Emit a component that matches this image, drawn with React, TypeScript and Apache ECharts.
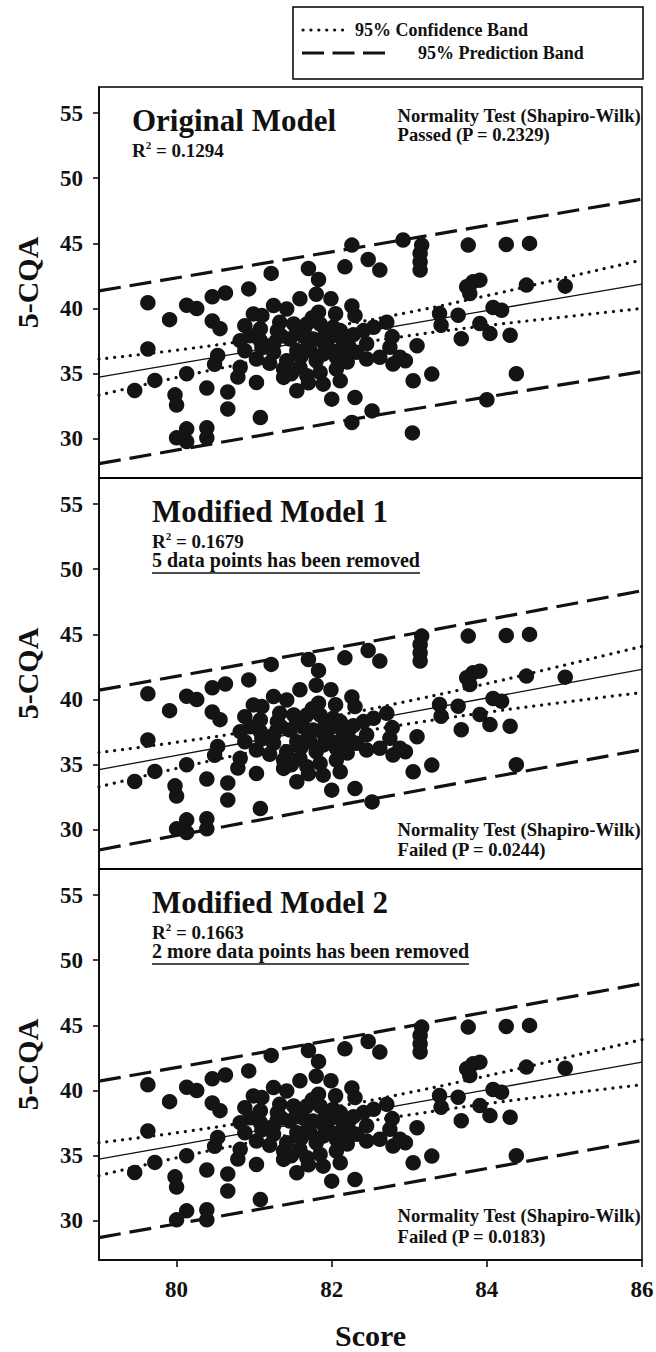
import React, { useEffect, useRef } from "react";
import * as echarts from "echarts";

// ---------- data ----------
// Original model: [Score, 5-CQA]
const leftPoints: [number, number][] = [
  [79.46, 33.72], [79.63, 40.44], [79.63, 36.9], [79.72, 34.49], [79.91, 39.15],
  [79.98, 33.38], [80.0, 32.6], [80.0, 30.08], [80.13, 30.77], [80.13, 29.8],
  [80.13, 40.26], [80.13, 35.0], [80.26, 40.0], [80.39, 33.9], [80.39, 30.85],
  [80.39, 30.08], [80.46, 40.9], [80.46, 39.05], [80.49, 35.72], [80.53, 36.4],
  [80.56, 38.46], [80.63, 41.2], [80.66, 33.6], [80.66, 32.3], [80.79, 34.74],
];
const upperPoints: [number, number][] = [
  [81.22, 42.7], [81.7, 43.08], [81.83, 42.23], [82.17, 43.2], [82.26, 44.87],
  [82.47, 43.77], [82.62, 42.95],
];
const clusterPoints: [number, number][] = [
  [80.93, 41.51], [81.59, 40.75], [81.8, 41.1], [81.99, 40.75], [82.26, 40.2],
  [82.3, 39.46], [81.25, 40.23], [81.42, 39.97], [81.1, 39.46], [80.99, 39.59],
  [81.83, 39.72], [80.88, 38.69], [81.33, 38.95], [81.51, 38.82], [81.68, 38.82],
  [81.85, 38.82], [82.02, 38.56], [82.11, 38.31], [82.41, 38.31], [82.54, 38.56],
  [82.71, 38.95], [81.08, 38.44], [80.82, 37.54], [80.95, 37.92], [81.08, 37.54],
  [81.25, 37.28], [81.46, 37.67], [81.63, 37.92], [81.76, 37.67], [81.89, 37.41],
  [82.15, 37.54], [82.32, 36.64], [82.45, 36.13], [82.62, 36.26], [82.75, 37.03],
  [82.88, 36.26], [83.1, 37.15], [80.88, 36.77], [81.03, 36.13], [81.25, 36.64],
  [81.42, 36.0], [81.55, 36.77], [81.72, 36.77], [81.89, 36.51], [82.06, 36.26],
  [82.79, 35.74], [82.95, 36.0], [80.82, 35.49], [81.38, 35.36], [81.59, 35.49],
  [81.68, 34.85], [81.85, 35.1], [82.06, 35.36], [82.11, 34.46], [81.38, 34.72],
  [83.05, 34.46], [83.29, 34.97], [81.03, 34.33], [81.55, 33.69], [81.89, 34.2],
  [82.0, 33.05], [82.3, 33.18], [82.52, 32.15], [82.26, 31.26], [81.08, 31.64],
  [83.04, 30.46], [81.7, 37.18], [82.0, 37.9], [81.92, 38.2], [81.55, 38.2],
  [82.22, 37.0], [81.8, 36.0], [81.48, 35.0], [82.28, 38.0],
  [81.3, 38.3], [81.75, 39.3], [82.05, 39.6], [81.2, 35.8], [82.2, 35.9],
  [81.7, 34.3], [81.95, 37.0], [81.1, 37.0], [81.6, 36.3], [82.45, 37.3],
  [81.35, 37.9], [82.1, 36.8],
];
const rightPoints: [number, number][] = [
  [82.92, 45.26], [83.16, 44.87], [83.14, 44.23], [83.14, 43.59], [83.14, 42.95],
  [83.76, 44.87], [84.25, 44.92], [84.55, 45.0], [83.82, 42.05], [83.74, 41.67],
  [83.78, 41.15], [83.91, 42.18], [84.51, 41.8], [85.01, 41.72], [83.39, 39.62],
  [83.63, 39.49], [83.41, 38.72], [84.08, 40.08], [84.19, 39.87], [83.91, 38.85],
  [84.04, 38.08], [84.3, 37.95], [83.67, 37.69], [82.78, 37.85], [84.38, 35.0],
  [84.0, 33.0],
];
// points dropped in Modified Model 1 (5) and additionally in Modified Model 2 (2)
const removedModel1: [number, number][] = [
  [82.26, 44.87], [82.92, 45.26], [83.04, 30.46], [84.0, 33.0], [82.26, 31.26],
];
const removedModel2: [number, number][] = [[82.52, 32.15], [80.13, 29.8]];

// regression line and bands
const bandScore = [79, 80, 81, 82, 83, 84, 85, 86];
const predScore = [79, 82.5, 86];

const fitOriginal = [34.74, 35.76, 36.78, 37.8, 38.82, 39.84, 40.86, 41.87];
const confUpperOriginal = [36.12, 36.81, 37.63, 38.6, 39.72, 40.99, 42.36, 43.73];
const confLowerOriginal = [33.36, 34.71, 35.93, 37.0, 37.92, 38.69, 39.36, 40.01];
const predUpperOriginal = [41.36, 44.85, 48.4];
const predLowerOriginal = [28.1, 31.75, 35.17];

const fitModel1 = [34.62, 35.72, 36.82, 37.92, 39.02, 40.12, 41.22, 42.31];
const confUpperModel1 = [35.94, 36.72, 37.64, 38.7, 39.9, 41.22, 42.64, 44.08];
const confLowerModel1 = [33.3, 34.72, 36.0, 37.14, 38.14, 39.02, 39.8, 40.54];
const predUpperModel1 = [40.72, 44.45, 48.35];
const predLowerModel1 = [28.46, 32.35, 36.15];

const fitModel2 = [34.74, 35.8, 36.87, 37.93, 38.99, 40.06, 41.12, 42.18];
const confUpperModel2 = [36.0, 36.76, 37.67, 38.69, 39.85, 41.13, 42.5, 43.91];
const confLowerModel2 = [33.48, 34.84, 36.07, 37.17, 38.13, 38.99, 39.74, 40.45];
const predUpperModel2 = [40.72, 44.4, 48.2];
const predLowerModel2 = [28.72, 32.4, 36.18];

const xTicks = [80, 82, 84, 86];
const yTicks = [30, 35, 40, 45, 50, 55];

const titles = ["Original Model", "Modified Model 1", "Modified Model 2"];
const rSquared = ["0.1294", "0.1679", "0.1663"];
const removedNotes = ["", "5 data points has been removed", "2 more data points has been removed"];
const normalityResult = ["Passed (P = 0.2329)", "Failed (P = 0.0244)", "Failed (P = 0.0183)"];

// ---------- chart ----------
const FONT = '"Liberation Serif", "Times New Roman", serif';
const INK = "#111";

function measure(text: string, size: number): number {
  const ctx = document.createElement("canvas").getContext("2d");
  if (!ctx) return text.length * size * 0.5;
  ctx.font = `bold ${size}px "Liberation Serif"`;
  return ctx.measureText(text).width;
}

const same = (a: [number, number], b: [number, number]) =>
  Math.abs(a[0] - b[0]) < 1e-6 && Math.abs(a[1] - b[1]) < 1e-6;

function buildOption() {
  const original = [...leftPoints, ...upperPoints, ...clusterPoints, ...rightPoints];
  const model1 = original.filter((p) => !removedModel1.some((r) => same(p, r)));
  const model2 = model1.filter((p) => !removedModel2.some((r) => same(p, r)));

  const panels = [
    { pts: original, fit: fitOriginal, cu: confUpperOriginal, cl: confLowerOriginal, pu: predUpperOriginal, pl: predLowerOriginal },
    { pts: model1, fit: fitModel1, cu: confUpperModel1, cl: confLowerModel1, pu: predUpperModel1, pl: predLowerModel1 },
    { pts: model2, fit: fitModel2, cu: confUpperModel2, cl: confLowerModel2, pu: predUpperModel2, pl: predLowerModel2 },
  ];

  const left = 99;
  const width = 543;
  const tops = [87, 478, 869];
  const height = 391;

  const grid = tops.map((t) => ({
    left,
    top: t,
    width,
    height,
    show: true,
    borderColor: "#000",
    borderWidth: 1.5,
    backgroundColor: "transparent",
    containLabel: false,
    outerBoundsMode: "none",
  }));

  const labelStyle = { fontFamily: FONT, fontWeight: "bold", fontSize: 23, color: INK };

  const xAxis = tops.map((_, i) => ({
    gridIndex: i,
    type: "value",
    min: 79,
    max: 86,
    axisLine: { show: true, lineStyle: { color: "#000", width: 1.5 } },
    axisTick: { show: i === 2, inside: false, length: 7, customValues: xTicks, lineStyle: { color: "#000", width: 1.5 } },
    axisLabel: { show: i === 2, customValues: xTicks, margin: 18, ...labelStyle },
    splitLine: { show: false },
  }));

  const yAxis = tops.map((_, i) => ({
    gridIndex: i,
    type: "value",
    min: 27,
    max: 57,
    axisLine: { show: true, lineStyle: { color: "#000", width: 1.5 } },
    axisTick: { show: true, inside: false, length: 6, customValues: yTicks, lineStyle: { color: "#000", width: 1.5 } },
    axisLabel: { show: true, customValues: yTicks, margin: 16, ...labelStyle },
    splitLine: { show: false },
  }));

  const series: any[] = [];
  panels.forEach((p, i) => {
    const common = { xAxisIndex: i, yAxisIndex: i, showSymbol: false, silent: true, animation: false };
    series.push({
      ...common, type: "line", z: 2,
      data: predScore.map((x, k) => [x, p.pu[k]]),
      lineStyle: { color: INK, width: 3.2, type: [22, 9] },
    });
    series.push({
      ...common, type: "line", z: 2,
      data: predScore.map((x, k) => [x, p.pl[k]]),
      lineStyle: { color: INK, width: 3.2, type: [22, 9] },
    });
    series.push({
      ...common, type: "line", z: 2, smooth: true,
      data: bandScore.map((x, k) => [x, p.cu[k]]),
      lineStyle: { color: INK, width: 3.2, type: [0.1, 7.8], cap: "round" },
    });
    series.push({
      ...common, type: "line", z: 2, smooth: true,
      data: bandScore.map((x, k) => [x, p.cl[k]]),
      lineStyle: { color: INK, width: 3.2, type: [0.1, 7.8], cap: "round" },
    });
    series.push({
      ...common, type: "line", z: 2,
      data: bandScore.map((x, k) => [x, p.fit[k]]),
      lineStyle: { color: INK, width: 1.3, type: "solid" },
    });
    series.push({
      type: "scatter", xAxisIndex: i, yAxisIndex: i, z: 3, silent: true,
      data: p.pts, symbol: "circle", symbolSize: 15.5,
      itemStyle: { color: "#141414", opacity: 1 },
    });
  });

  const txt = (x: number, y: number, text: string, size: number, align = "left", extra: any = {}) => ({
    type: "text",
    x,
    y,
    z: 10,
    silent: true,
    ...extra,
    style: { text, fontSize: size, fontWeight: "bold", fontFamily: FONT, fill: INK, align, verticalAlign: "middle" },
  });

  const graphic: any[] = [];
  // legend
  graphic.push({
    type: "rect", z: 10, silent: true,
    shape: { x: 293, y: 7, width: 350, height: 72 },
    style: { fill: "#fff", stroke: "#000", lineWidth: 1.5 },
  });
  graphic.push({
    type: "line", z: 11, silent: true,
    shape: { x1: 303, y1: 30, x2: 343, y2: 30 },
    style: { stroke: INK, lineWidth: 3.2, lineDash: [0.1, 7.8], lineCap: "round" },
  });
  graphic.push({
    type: "line", z: 11, silent: true,
    shape: { x1: 302, y1: 53, x2: 385, y2: 53 },
    style: { stroke: INK, lineWidth: 3.2, lineDash: [22, 8.5] },
  });
  graphic.push(txt(355, 30, "95% Confidence Band", 18));
  graphic.push(txt(418, 53, "95% Prediction Band", 18));

  // axis names
  tops.forEach((t) => {
    graphic.push(txt(27, t + height / 2, "5-CQA", 30, "center", { rotation: Math.PI / 2 }));
  });
  graphic.push(txt(left + width / 2, 1335, "Score", 30, "center"));

  // panel annotations
  const titleX = [132, 152, 152];
  const normY = [[115, 134], [829, 849.5], [1215, 1236.5]];
  const normLine = "Normality Test (Shapiro-Wilk)";
  const normSize = 18.6;
  const normX = 641 - measure(normLine, normSize);
  tops.forEach((t, i) => {
    graphic.push(txt(titleX[i], t + 33, titles[i], 31));
    graphic.push({
      type: "text", x: titleX[i], y: t + 63, z: 10, silent: true,
      style: {
        text: `{b|R}{s|2}{b| = ${rSquared[i]}}`,
        verticalAlign: "middle",
        align: "left",
        rich: {
          b: { fontSize: 19, fontWeight: "bold", fontFamily: FONT, fill: INK, lineHeight: 22 },
          s: { fontSize: 11, fontWeight: "bold", fontFamily: FONT, fill: INK, verticalAlign: "top", lineHeight: 12 },
        },
      },
    });
    if (removedNotes[i]) {
      const y = t + 82;
      graphic.push(txt(titleX[i], y, removedNotes[i], 20));
      const w = measure(removedNotes[i], 20);
      graphic.push({
        type: "line", z: 10, silent: true,
        shape: { x1: titleX[i], y1: t + 95, x2: titleX[i] + w, y2: t + 95 },
        style: { stroke: INK, lineWidth: 1.6 },
      });
    }
    graphic.push(txt(normX, normY[i][0], normLine, normSize));
    graphic.push(txt(normX, normY[i][1], normalityResult[i], normSize));
  });

  return {
    animation: false,
    backgroundColor: "#fff",
    grid,
    xAxis,
    yAxis,
    series,
    graphic,
  };
}

export default function App() {
  const ref = useRef<HTMLDivElement>(null);
  useEffect(() => {
    document.body.style.margin = "0";
    if (!ref.current) return;
    const chart = echarts.init(ref.current, null, { renderer: "svg" });
    chart.setOption(buildOption() as any);
    return () => chart.dispose();
  }, []);
  return (
    <div
      ref={ref}
      style={{ position: "absolute", left: 0, top: 0, width: 656, height: 1352, background: "#fff" }}
    />
  );
}
